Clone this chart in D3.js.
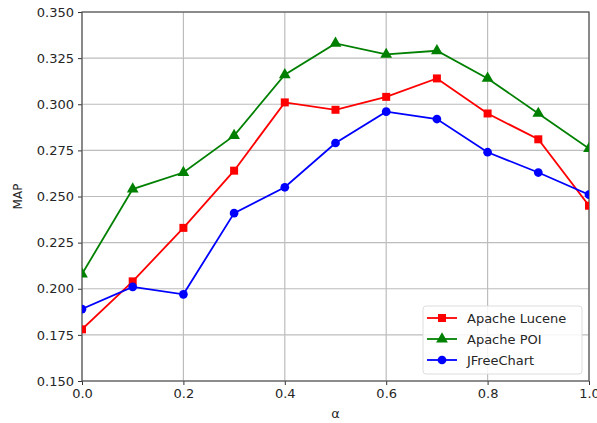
<!DOCTYPE html>
<html>
<head>
<meta charset="utf-8">
<script src="https://cdn.jsdelivr.net/npm/d3@7"></script>
<style>
  body { margin: 0; background: #fff; }
  svg { display: block; font-family: "DejaVu Sans", sans-serif; }
</style>
</head>
<body>
<div id="chart"></div>
<script>
var alphas = [0.0, 0.1, 0.2, 0.3, 0.4, 0.5, 0.6, 0.7, 0.8, 0.9, 1.0];
var lucene = [0.178, 0.204, 0.233, 0.264, 0.301, 0.297, 0.304, 0.314, 0.295, 0.281, 0.245];
var poi = [0.208, 0.254, 0.263, 0.283, 0.316, 0.333, 0.327, 0.329, 0.314, 0.295, 0.276];
var jfree = [0.189, 0.201, 0.197, 0.241, 0.255, 0.279, 0.296, 0.292, 0.274, 0.263, 0.251];
var seriesNames = ['Apache Lucene', 'Apache POI', 'JFreeChart'];
var xTicks = [0.0, 0.2, 0.4, 0.6, 0.8, 1.0];
var yTicks = [0.150, 0.175, 0.200, 0.225, 0.250, 0.275, 0.300, 0.325, 0.350];

var width = 597, height = 423;
var margin = { left: 82, right: 8, top: 12, bottom: 42 };

var series = [
  { name: seriesNames[0], values: lucene, color: '#ff0000', symbol: d3.symbolSquare, size: 64 },
  { name: seriesNames[1], values: poi, color: '#008000', symbol: d3.symbolTriangle, size: 60 },
  { name: seriesNames[2], values: jfree, color: '#0000ff', symbol: d3.symbolCircle, size: 60 }
];

var svg = d3.select('#chart')
  .append('svg')
  .attr('width', width)
  .attr('height', height);

var x = d3.scaleLinear().domain([0, 1]).range([margin.left, width - margin.right]);
var y = d3.scaleLinear().domain([0.15, 0.35]).range([height - margin.bottom, margin.top]);

// grid
svg.append('g')
  .selectAll('line.vx')
  .data(xTicks)
  .enter()
  .append('line')
  .attr('x1', function (d) { return x(d); })
  .attr('x2', function (d) { return x(d); })
  .attr('y1', y(0.15))
  .attr('y2', y(0.35))
  .attr('stroke', '#bdbdbd')
  .attr('stroke-width', 1.2);

svg.append('g')
  .selectAll('line.hy')
  .data(yTicks)
  .enter()
  .append('line')
  .attr('x1', x(0))
  .attr('x2', x(1))
  .attr('y1', function (d) { return y(d); })
  .attr('y2', function (d) { return y(d); })
  .attr('stroke', '#bdbdbd')
  .attr('stroke-width', 1.2);

// axes
var xAxis = svg.append('g')
  .attr('transform', 'translate(0,' + y(0.15) + ')')
  .call(d3.axisBottom(x).tickValues(xTicks).tickFormat(d3.format('.1f')).tickSizeOuter(0).tickSize(4).tickPadding(4));

var yAxis = svg.append('g')
  .attr('transform', 'translate(' + x(0) + ',0)')
  .call(d3.axisLeft(y).tickValues(yTicks).tickFormat(d3.format('.3f')).tickSizeOuter(0).tickSize(4).tickPadding(4));

[xAxis, yAxis].forEach(function (a) {
  a.select('.domain').remove();
  a.selectAll('text').attr('font-size', 13).attr('fill', '#262626').attr('font-family', '"DejaVu Sans", sans-serif');
  a.selectAll('line').attr('stroke', '#333');
});

// frame
svg.append('rect')
  .attr('x', x(0))
  .attr('y', y(0.35))
  .attr('width', x(1) - x(0))
  .attr('height', y(0.15) - y(0.35))
  .attr('fill', 'none')
  .attr('stroke', '#555')
  .attr('stroke-width', 1.2);

// lines and markers
var line = d3.line()
  .x(function (d, i) { return x(alphas[i]); })
  .y(function (d) { return y(d); });

svg.append('clipPath').attr('id', 'clip')
  .append('rect')
  .attr('x', x(0))
  .attr('y', y(0.35))
  .attr('width', x(1) - x(0))
  .attr('height', y(0.15) - y(0.35));

var plot = svg.append('g').attr('clip-path', 'url(#clip)');

series.forEach(function (s) {
  plot.append('path')
    .datum(s.values)
    .attr('d', line)
    .attr('fill', 'none')
    .attr('stroke', s.color)
    .attr('stroke-width', 1.8);

  plot.selectAll(null)
    .data(s.values)
    .enter()
    .append('path')
    .attr('d', d3.symbol().type(s.symbol).size(s.size))
    .attr('transform', function (d, i) { return 'translate(' + x(alphas[i]) + ',' + y(d) + ')'; })
    .attr('fill', s.color);
});

// axis labels
svg.append('text')
  .attr('x', (x(0) + x(1)) / 2)
  .attr('y', 418)
  .attr('text-anchor', 'middle')
  .attr('font-size', 13)
  .attr('fill', '#262626')
  .text('α');

svg.append('text')
  .attr('transform', 'translate(22,' + (y(0.25)) + ') rotate(-90)')
  .attr('text-anchor', 'middle')
  .attr('font-size', 12)
  .attr('fill', '#262626')
  .text('MAP');

// legend
var legend = svg.append('g').attr('transform', 'translate(423,306)');
legend.append('rect')
  .attr('width', 159)
  .attr('height', 68)
  .attr('rx', 3)
  .attr('fill', '#fff')
  .attr('fill-opacity', 0.85)
  .attr('stroke', '#ddd');

series.forEach(function (s, i) {
  var g = legend.append('g').attr('transform', 'translate(0,' + (12 + i * 21) + ')');
  g.append('line')
    .attr('x1', 4).attr('x2', 34)
    .attr('stroke', s.color)
    .attr('stroke-width', 1.8);
  g.append('path')
    .attr('d', d3.symbol().type(s.symbol).size(s.size))
    .attr('transform', 'translate(19,0)')
    .attr('fill', s.color);
  g.append('text')
    .attr('x', 44)
    .attr('y', 4.5)
    .attr('font-size', 13)
    .attr('fill', '#262626')
    .text(s.name);
});
</script>
</body>
</html>
